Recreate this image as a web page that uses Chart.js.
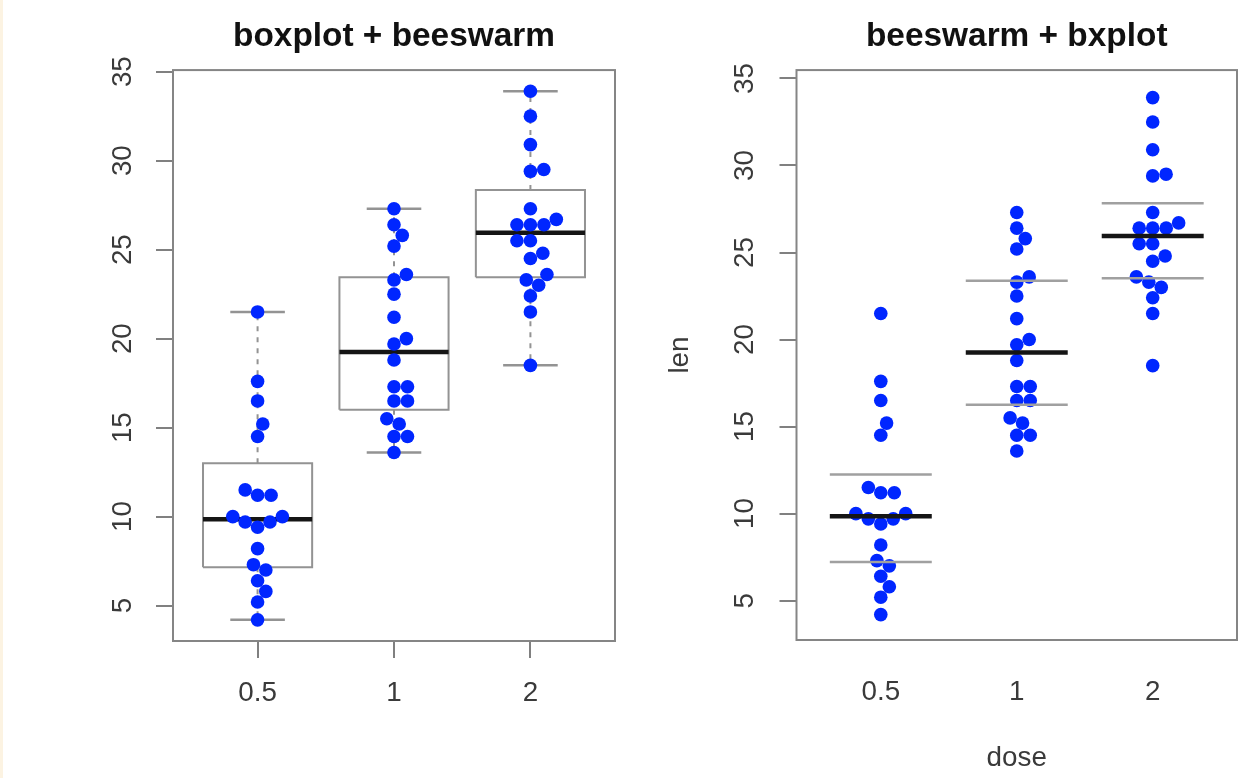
<!DOCTYPE html>
<html><head><meta charset="utf-8">
<script src="https://cdn.jsdelivr.net/npm/chart.js@4.4.1/dist/chart.umd.min.js"></script>
<style>
html,body{margin:0;padding:0;background:#fff;width:1248px;height:778px;overflow:hidden;}
#wrap{position:relative;width:1248px;height:778px;}
canvas{position:absolute;top:0;}
#edge{position:absolute;left:0;top:0;width:3px;height:778px;background:#fcf3e2;z-index:5;}
</style></head><body>
<div id="wrap">
<canvas id="c1" width="624" height="778" style="left:0"></canvas>
<canvas id="c2" width="624" height="778" style="left:624px"></canvas>
<div id="edge"></div>
</div>
<script>
// ---- data (ToothGrowth len by dose) ----
const doseLabels = ['0.5', '1', '2'];
const lenDose05 = [4.2, 11.5, 7.3, 5.8, 6.4, 10, 11.2, 11.2, 5.2, 7, 15.2, 21.5, 17.6, 9.7, 14.5, 10, 8.2, 9.4, 16.5, 9.7];
const lenDose1  = [16.5, 16.5, 15.2, 17.3, 22.5, 17.3, 13.6, 14.5, 18.8, 15.5, 19.7, 23.3, 23.6, 26.4, 20, 25.2, 25.8, 21.2, 14.5, 27.3];
const lenDose2  = [23.6, 18.5, 33.9, 25.5, 26.4, 32.5, 26.7, 21.5, 23.3, 29.5, 25.5, 26.4, 22.4, 24.5, 24.8, 30.9, 26.4, 27.3, 29.4, 23];
const yTickValues = [5, 10, 15, 20, 25, 30, 35];
// left panel boxplot statistics
const boxLower   = [7.15, 16.0, 23.45];
const boxMedian  = [9.85, 19.25, 25.95];
const boxUpper   = [13.0, 23.45, 28.35];
const whiskerLow  = [4.2, 13.6, 18.5];
const whiskerHigh = [21.5, 27.3, 33.9];
// right panel bxplot lines
const bxQ1     = [7.225, 16.25, 23.525];
const bxMedian = [9.85, 19.25, 25.95];
const bxQ3     = [12.25, 23.375, 27.825];

const groups = [lenDose05, lenDose1, lenDose2];
const FONT = "'Liberation Sans', Arial, Helvetica, sans-serif";
const TICK_FONT = {family: FONT, size: 27.8};
const BLUE = '#0026ff';
const GAP = {x: null, y: null};

function segs(list) { // list of polylines -> data with gaps
  const out = [];
  list.forEach((pl, k) => { if (k) out.push(GAP); pl.forEach(p => out.push({x: p[0], y: p[1]})); });
  return out;
}
function lineDs(data, color, width, dash) {
  return {type: 'scatter', data, showLine: true, spanGaps: false, borderColor: color,
    borderWidth: width, borderDash: dash || [], pointRadius: 0, pointHoverRadius: 0, fill: false, tension: 0,
    borderCapStyle: 'butt'};
}
function pointsDs() {
  const data = [];
  groups.forEach((g, i) => g.forEach(v => data.push({x: i + 1, y: v})));
  return {type: 'scatter', data, pointRadius: 6.8, pointHoverRadius: 6.8, pointBackgroundColor: BLUE,
    pointBorderWidth: 0, pointBorderColor: BLUE, showLine: false};
}

// beeswarm "swarm" placement (ascending priority), in pixels
function swarmOffsets(values, yPix, D) {
  const idx = values.map((v, i) => i).sort((a, b) => values[a] - values[b] || a - b);
  const placed = [];
  const out = new Array(values.length);
  idx.forEach(k => {
    const py = yPix(values[k]);
    const near = placed.filter(p => Math.abs(py - p.py) < D);
    let best = 0;
    if (near.length) {
      near.sort((a, b) => Math.abs(py - a.py) - Math.abs(py - b.py));
      const offs = near.map(p => Math.sqrt(D * D - (py - p.py) ** 2));
      const cands = [0].concat(near.map((p, j) => p.off + offs[j]), near.map((p, j) => p.off - offs[j]));
      let bestAbs = Infinity;
      for (const c of cands) {
        const bad = near.some(p => (c - p.off) ** 2 + (py - p.py) ** 2 < 0.999 * D * D);
        if (!bad && Math.abs(c) < bestAbs) { bestAbs = Math.abs(c); best = c; }
      }
    }
    placed.push({py, off: best});
    out[k] = best;
  });
  return out;
}
function applySwarm(chart, dsIndex, D) {
  const xs = chart.scales.x, ys = chart.scales.y;
  const pxPerUnit = Math.abs(xs.getPixelForValue(2) - xs.getPixelForValue(1));
  const data = [];
  groups.forEach((g, i) => {
    const offs = swarmOffsets(g, v => ys.getPixelForValue(v), D);
    g.forEach((v, j) => data.push({x: i + 1 + offs[j] / pxPerUnit, y: v}));
  });
  chart.data.datasets[dsIndex].data = data;
  chart.update('none');
}

const framePlugin = {
  id: 'frame',
  beforeDatasetsDraw(chart, args, opts) {
    const a = chart.chartArea, ctx = chart.ctx;
    ctx.save();
    ctx.strokeStyle = opts.color || '#7d7d7d';
    ctx.lineWidth = opts.width || 2;
    ctx.strokeRect(a.left, a.top, a.right - a.left, a.bottom - a.top);
    ctx.restore();
  }
};

function scalesFor(cfg) {
  return {
    x: {
      type: 'linear', min: 0.38, max: 3.62, offset: false,
      afterBuildTicks: s => { s.ticks = doseLabels.map((_, i) => ({value: i + 1})); },
      ticks: {callback: (v, i) => doseLabels[i], font: TICK_FONT, color: '#3a3a3a', padding: 19,
        minRotation: 0, maxRotation: 0, autoSkip: false},
      grid: {drawOnChartArea: false, drawTicks: true, tickLength: 17, color: cfg.xTickColor, lineWidth: 2},
      border: {display: false},
      title: cfg.xTitle ? {display: true, text: cfg.xTitle, font: TICK_FONT, color: '#3a3a3a', padding: {top: 0, bottom: 3}} : {display: false},
      afterFit: s => { s.height = cfg.xHeight; }
    },
    y: {
      type: 'linear', min: cfg.yMin, max: cfg.yMax,
      afterBuildTicks: s => { s.ticks = yTickValues.map(v => ({value: v})); },
      ticks: {callback: v => String(v), font: TICK_FONT, color: '#3a3a3a', padding: cfg.yPad,
        minRotation: 90, maxRotation: 90, crossAlign: 'center', autoSkip: false},
      grid: {drawOnChartArea: false, drawTicks: true, tickLength: 17, color: '#808080', lineWidth: 2},
      border: {display: false},
      title: cfg.yTitle ? {display: true, text: cfg.yTitle, font: TICK_FONT, color: '#3a3a3a', padding: {top: 40, bottom: 0}} : {display: false},
      afterFit: s => { s.width = cfg.yWidth; }
    }
  };
}
function baseOptions(title, cfg) {
  return {
    responsive: false, animation: false, devicePixelRatio: 1, events: [],
    layout: {padding: {left: 0, right: cfg.padRight, top: 0, bottom: 0}},
    scales: scalesFor(cfg),
    plugins: {
      legend: {display: false}, tooltip: {enabled: false},
      title: {display: true, text: title, fullSize: false, color: '#111',
        font: {family: FONT, size: 33.4, weight: 'bold'}, padding: {top: 17, bottom: 13}},
      frame: {color: '#858585', width: 2}
    }
  };
}

// ---- left: boxplot + beeswarm ----
const leftDatasets = [
  pointsDs(),
  lineDs(segs(groups.map((g, i) => [[i + 1 - 0.4, boxMedian[i]], [i + 1 + 0.4, boxMedian[i]]])), '#151515', 4.5),
  lineDs(segs(groups.map((g, i) => [[i + 1 - 0.4, boxLower[i]], [i + 1 + 0.4, boxLower[i]], [i + 1 + 0.4, boxUpper[i]], [i + 1 - 0.4, boxUpper[i]], [i + 1 - 0.4, boxLower[i]]])), '#939393', 2),
  lineDs(segs([].concat(...groups.map((g, i) => [[[i + 1, boxLower[i]], [i + 1, whiskerLow[i]]], [[i + 1, boxUpper[i]], [i + 1, whiskerHigh[i]]]]))), '#939393', 2, [5, 6]),
  lineDs(segs([].concat(...groups.map((g, i) => [[[i + 1 - 0.2, whiskerLow[i]], [i + 1 + 0.2, whiskerLow[i]]], [[i + 1 - 0.2, whiskerHigh[i]], [i + 1 + 0.2, whiskerHigh[i]]]]))), '#939393', 2.5)
];
const chart1 = new Chart(document.getElementById('c1'), {
  type: 'scatter',
  data: {datasets: leftDatasets},
  options: baseOptions('boxplot + beeswarm', {yMin: 3.012, yMax: 35.088, yWidth: 173, xHeight: 137, padRight: 9, yPad: 17, xTickColor: '#808080'}),
  plugins: [framePlugin]
});
applySwarm(chart1, 0, 13.5);

// ---- right: beeswarm + bxplot ----
const rightDatasets = [
  lineDs(segs(groups.map((g, i) => [[i + 1 - 0.375, bxMedian[i]], [i + 1 + 0.375, bxMedian[i]]])), '#151515', 4.5),
  lineDs(segs([].concat(...groups.map((g, i) => [[[i + 1 - 0.375, bxQ1[i]], [i + 1 + 0.375, bxQ1[i]]], [[i + 1 - 0.375, bxQ3[i]], [i + 1 + 0.375, bxQ3[i]]]]))), '#a0a0a0', 2.5),
  pointsDs()
];
const chart2 = new Chart(document.getElementById('c2'), {
  type: 'scatter',
  data: {datasets: rightDatasets},
  options: baseOptions('beeswarm + bxplot', {yMin: 2.74, yMax: 35.48, yWidth: 172.5, xHeight: 138, padRight: 11, yPad: 19, xTickColor: 'rgba(0,0,0,0)', xTitle: 'dose', yTitle: 'len'}),
  plugins: [framePlugin]
});
applySwarm(chart2, 2, 13.5);
</script>
</body></html>
